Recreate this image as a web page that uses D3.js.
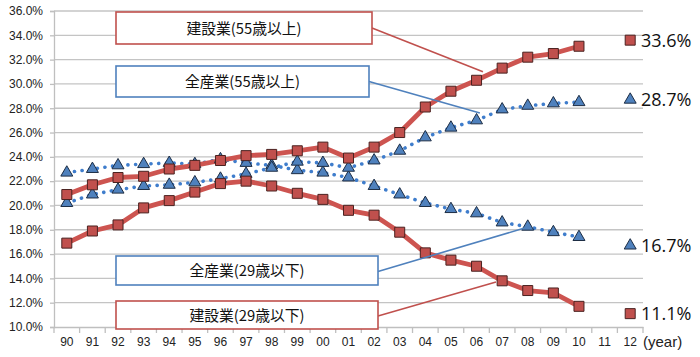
<!DOCTYPE html>
<html><head><meta charset="utf-8">
<script src="https://cdn.jsdelivr.net/npm/d3@7"></script>
<style>
body{margin:0;background:#fff;}
svg{display:block;}
</style></head>
<body>
<svg id="chart" width="700" height="357"></svg>
<script>
// ---- data ----
const years = ["90","91","92","93","94","95","96","97","98","99","00","01","02","03","04","05","06","07","08","09","10","11","12"];
const yTicks = [10,12,14,16,18,20,22,24,26,28,30,32,34,36];
const kensetsu55 = [20.9,21.7,22.3,22.4,23.0,23.3,23.7,24.1,24.2,24.5,24.8,23.9,24.8,26.0,28.1,29.4,30.3,31.3,32.2,32.5,33.1];
const zensangyo55 = [20.2,20.9,21.3,21.6,21.7,21.9,22.2,22.6,23.1,23.6,23.5,23.1,23.7,24.5,25.6,26.4,27.0,27.9,28.2,28.4,28.5];
const zensangyo29 = [22.7,23.0,23.3,23.4,23.5,23.4,23.8,23.5,23.3,22.9,22.7,22.3,21.6,20.9,20.2,19.7,19.35,18.6,18.25,17.8,17.4];
const kensetsu29 = [16.9,17.9,18.4,19.8,20.4,21.1,21.8,22.0,21.6,21.0,20.5,19.6,19.2,17.8,16.1,15.5,15.0,13.8,13.0,12.8,11.7];
const latestLabels = ["33.6%","28.7%","16.7%","11.1%"];
const latestValues = [33.6,28.7,16.7,11.1];
const latestKinds = ["square","triangle","triangle","square"];
const boxLabels = ["建設業(55歳以上)","全産業(55歳以上)","全産業(29歳以下)","建設業(29歳以下)"];
const boxColors = ["#c0504d","#4f81bd","#4f81bd","#c0504d"];
// leader end points in data space: [fractional year index, value]
const leaderEnds = [[16.25,31.0],[16.13,27.6],[17.97,18.2],[16.76,13.7]];

// ---- layout ----
const svg = d3.select("#chart");
const x = d3.scaleBand().domain(years).range([54,643]).paddingInner(0).paddingOuter(0);
const y = d3.scaleLinear().domain([10,36]).range([327,11]);
const cx = c => x(c) + x.bandwidth()/2;
const xi = i => x(years[0]) + x.bandwidth()*(i+0.5);

const red = "#c0504d", blue = "#4f81bd";
const lineRed = "#cd5450", lineBlue = "#3f7dcc";

// gridlines
svg.append("g").selectAll("line").data(yTicks.filter(t=>t>10)).join("line")
  .attr("x1",54).attr("x2",643).attr("y1",d=>y(d)).attr("y2",d=>y(d))
  .attr("stroke","#c4c4c4").attr("stroke-width",1.3);

// y axis
const yAxis = d3.axisLeft(y).tickValues(yTicks).tickFormat(d=>d.toFixed(1)+"%").tickSize(4).tickPadding(7);
const gy = svg.append("g").attr("transform","translate(54,0)").call(yAxis);
gy.select(".domain").attr("stroke","#bfbfbf").attr("stroke-width",1.3);
gy.selectAll(".tick line").attr("stroke","#bfbfbf").attr("stroke-width",1.3);
gy.selectAll("text").attr("font-family","Liberation Sans, Arial, sans-serif").attr("font-size",12).attr("fill","#222");

// x axis
const xAxis = d3.axisBottom(x).tickSize(0).tickPadding(10);
const gx = svg.append("g").attr("transform","translate(0,327)").call(xAxis);
gx.select(".domain").attr("stroke","#bfbfbf").attr("stroke-width",1.3);
gx.selectAll("text").attr("font-family","Liberation Sans, Arial, sans-serif").attr("font-size",12).attr("fill","#222");
svg.append("g").selectAll("line").data(years.concat(["end"])).join("line")
  .attr("x1",(d,i)=>x(years[0])+i*x.bandwidth()).attr("x2",(d,i)=>x(years[0])+i*x.bandwidth())
  .attr("y1",327).attr("y2",333).attr("stroke","#bfbfbf").attr("stroke-width",1.3);
svg.append("text").attr("x",643).attr("y",347).attr("font-family","Liberation Sans, Arial, sans-serif")
  .attr("font-size",15).attr("fill","#222").text("(year)");

// lines
const line = d3.line().x((d,i)=>cx(years[i])).y(d=>y(d));
const series = [
  {v:zensangyo29, kind:"triangle"},
  {v:zensangyo55, kind:"triangle"},
  {v:kensetsu29, kind:"square"},
  {v:kensetsu55, kind:"square"}
];
series.forEach(s=>{
  if(s.kind==="triangle"){
    svg.append("path").attr("d",line(s.v)).attr("fill","none").attr("stroke",lineBlue)
      .attr("stroke-width",3.6).attr("stroke-linecap","round").attr("stroke-dasharray","0.1 7.6");
  } else {
    svg.append("path").attr("d",line(s.v)).attr("fill","none").attr("stroke",lineRed)
      .attr("stroke-width",4.8).attr("stroke-linejoin","round");
  }
});
const sq = d3.symbol().type(d3.symbolSquare).size(100);
const tri = d3.symbol().type(d3.symbolTriangle).size(62);
function drawMarkers(vals, kind, cats){
  svg.append("g").selectAll("path").data(vals).join("path")
    .attr("d", kind==="square"?sq():tri())
    .attr("transform",(d,i)=>`translate(${cx(cats[i])},${y(d)})`)
    .attr("fill", kind==="square"?red:blue)
    .attr("stroke", kind==="square"?"#4a2220":"#1d2d44").attr("stroke-width",1);
}
series.forEach(s=>drawMarkers(s.v, s.kind, years));

// latest values at "12"
latestValues.forEach((v,i)=>{
  drawMarkers([v], latestKinds[i], ["12"]);
  svg.append("text").attr("x",641).attr("y",y(v)+6.5)
    .attr("font-family","Open Sans, Liberation Sans, sans-serif").attr("font-size",18).attr("fill","#111")
    .text(latestLabels[i]);
});

// callout boxes
const boxes = [
  {x:116,y:12,w:256,h:32},
  {x:116,y:66,w:253,h:31},
  {x:116,y:256,w:262,h:29},
  {x:116,y:301,w:262,h:28}
];
boxes.forEach((b,i)=>{
  const e = leaderEnds[i];
  svg.append("line").attr("x1",b.x+b.w).attr("y1",b.y+b.h/2 + (i<2?0:1)).attr("x2",xi(e[0])).attr("y2",y(e[1]))
    .attr("stroke",boxColors[i]).attr("stroke-width",1.6);
  svg.append("rect").attr("x",b.x).attr("y",b.y).attr("width",b.w).attr("height",b.h)
    .attr("fill","#fff").attr("stroke",boxColors[i]).attr("stroke-width",1.6);
  svg.append("text").attr("x",b.x+b.w/2).attr("y",b.y+b.h/2+5.5).attr("text-anchor","middle")
    .attr("font-family","Noto Sans CJK JP, sans-serif").attr("font-size",14.8).attr("fill","#111")
    .text(boxLabels[i]);
});
</script>
</body></html>
